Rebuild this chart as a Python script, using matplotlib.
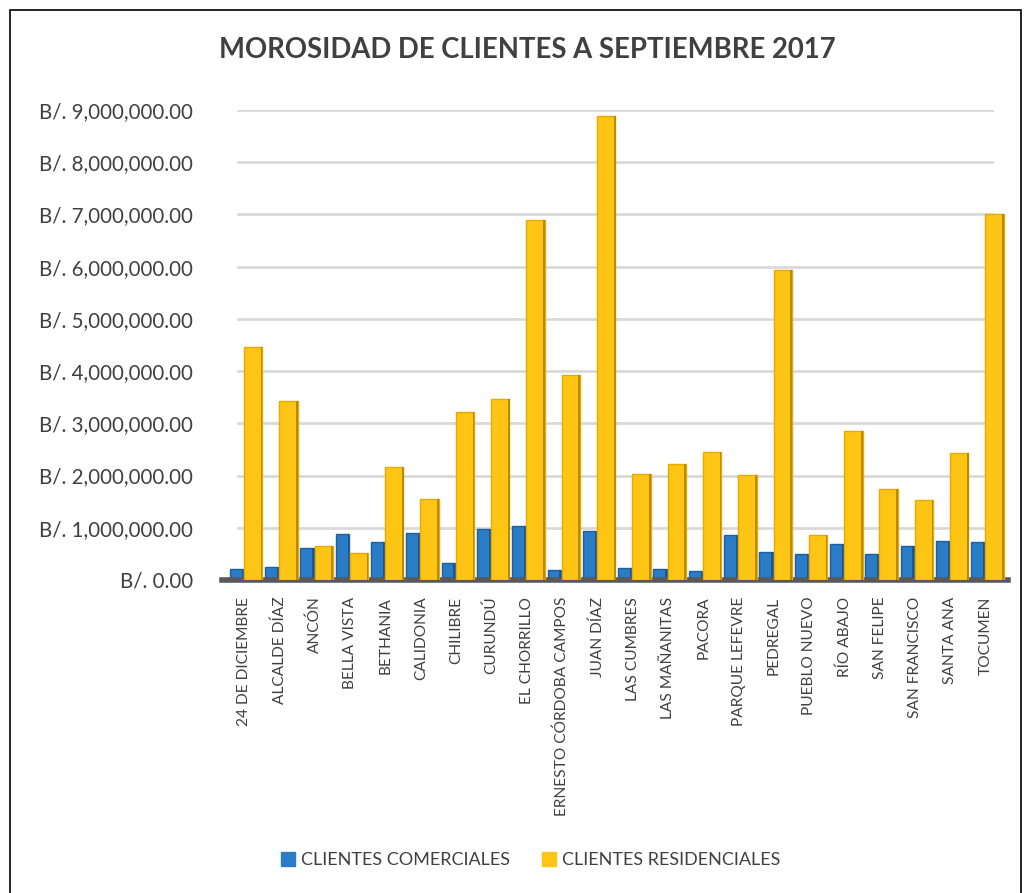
import numpy as np
import matplotlib.pyplot as plt
from matplotlib.patches import Rectangle
from matplotlib.ticker import FuncFormatter

plt.rcParams['font.family'] = ['Lato', 'DejaVu Sans']

corregimientos = ['24 DE DICIEMBRE', 'ALCALDE DÍAZ', 'ANCÓN', 'BELLA VISTA', 'BETHANIA',
                  'CALIDONIA', 'CHILIBRE', 'CURUNDÚ', 'EL CHORRILLO', 'ERNESTO CÓRDOBA CAMPOS',
                  'JUAN DÍAZ', 'LAS CUMBRES', 'LAS MAÑANITAS', 'PACORA', 'PARQUE LEFEVRE',
                  'PEDREGAL', 'PUEBLO NUEVO', 'RÍO ABAJO', 'SAN FELIPE', 'SAN FRANCISCO',
                  'SANTA ANA', 'TOCUMEN']

# valores en millones de balboas
comerciales = [0.21, 0.25, 0.61, 0.88, 0.73, 0.90, 0.32, 0.98, 1.04, 0.19, 0.93,
               0.23, 0.21, 0.17, 0.86, 0.54, 0.50, 0.69, 0.50, 0.65, 0.75, 0.73]
residenciales = [4.47, 3.42, 0.66, 0.52, 2.17, 1.55, 3.21, 3.47, 6.90, 3.93, 8.88,
                 2.03, 2.22, 2.46, 2.01, 5.94, 0.86, 2.86, 1.74, 1.53, 2.43, 7.01]

com = np.array(comerciales) * 1e6
res = np.array(residenciales) * 1e6
x = np.arange(len(corregimientos))

fig = plt.figure(figsize=(10.30, 8.93), dpi=100)
ax = fig.add_axes([222 / 1030, 313 / 893, 786 / 1030, 470 / 893])

# lineas de cuadricula
for v in range(1, 10):
    ax.axhline(v * 1e6, xmin=0.02, xmax=0.98, color='#d9d9d9', lw=2, zorder=0)

azul = '#2a7cc6'
amarillo = '#ffc514'
ax.bar(x - 0.22, com, width=0.38, color=azul, edgecolor='#1d5fa0', lw=1, zorder=2)
ax.bar(x + 0.25, res, width=0.52, color=amarillo, edgecolor='#e8aa00', lw=1, zorder=3)
# lado oscuro de las barras (efecto 3D)
ax.bar(x - 0.05, com, width=0.05, color='#1b5592', lw=0, zorder=2)
ax.bar(x + 0.49, res, width=0.05, color='#b88a00', lw=0, zorder=3)

ax.set_xlim(-0.63, len(x) - 0.37)
ax.set_ylim(0, 9e6)
ax.set_yticks(np.arange(0, 10) * 1e6)
ax.yaxis.set_major_formatter(FuncFormatter(lambda v, p: 'B/. {:,.2f}'.format(v) if v else 'B/. 0.00'))
ax.set_xticks(x)
ax.set_xticklabels(corregimientos, rotation=90, fontsize=11.2, color='#404040')
ax.tick_params(axis='y', labelsize=14.8, colors='#404040', length=0, pad=21)
ax.tick_params(axis='x', length=0, pad=12)
for s in ['top', 'right', 'left']:
    ax.spines[s].set_visible(False)
ax.spines['bottom'].set_color('#595959')
ax.spines['bottom'].set_linewidth(4)

fig.text(0.512, 1 - 50 / 893, 'MOROSIDAD DE CLIENTES A SEPTIEMBRE 2017', ha='center', va='center',
         fontsize=19.8, fontweight='bold', color='#404040')

h1 = Rectangle((0, 0), 1, 1, color=azul)
h2 = Rectangle((0, 0), 1, 1, color=amarillo)
fig.legend([h1, h2], ['CLIENTES COMERCIALES', 'CLIENTES RESIDENCIALES'], loc='center',
           bbox_to_anchor=(0.515, 1 - 860 / 893), ncol=2, frameon=False, fontsize=13,
           handlelength=0.8, handleheight=0.8, handletextpad=0.3, columnspacing=1.8,
           labelcolor='#404040')

fig.patches.append(Rectangle((10 / 1030, -0.01), 1011 / 1030, 1 - 10 / 893 + 0.01,
                             transform=fig.transFigure, fill=False, edgecolor='black', lw=1.2))

fig.savefig('out.png', dpi=100)
